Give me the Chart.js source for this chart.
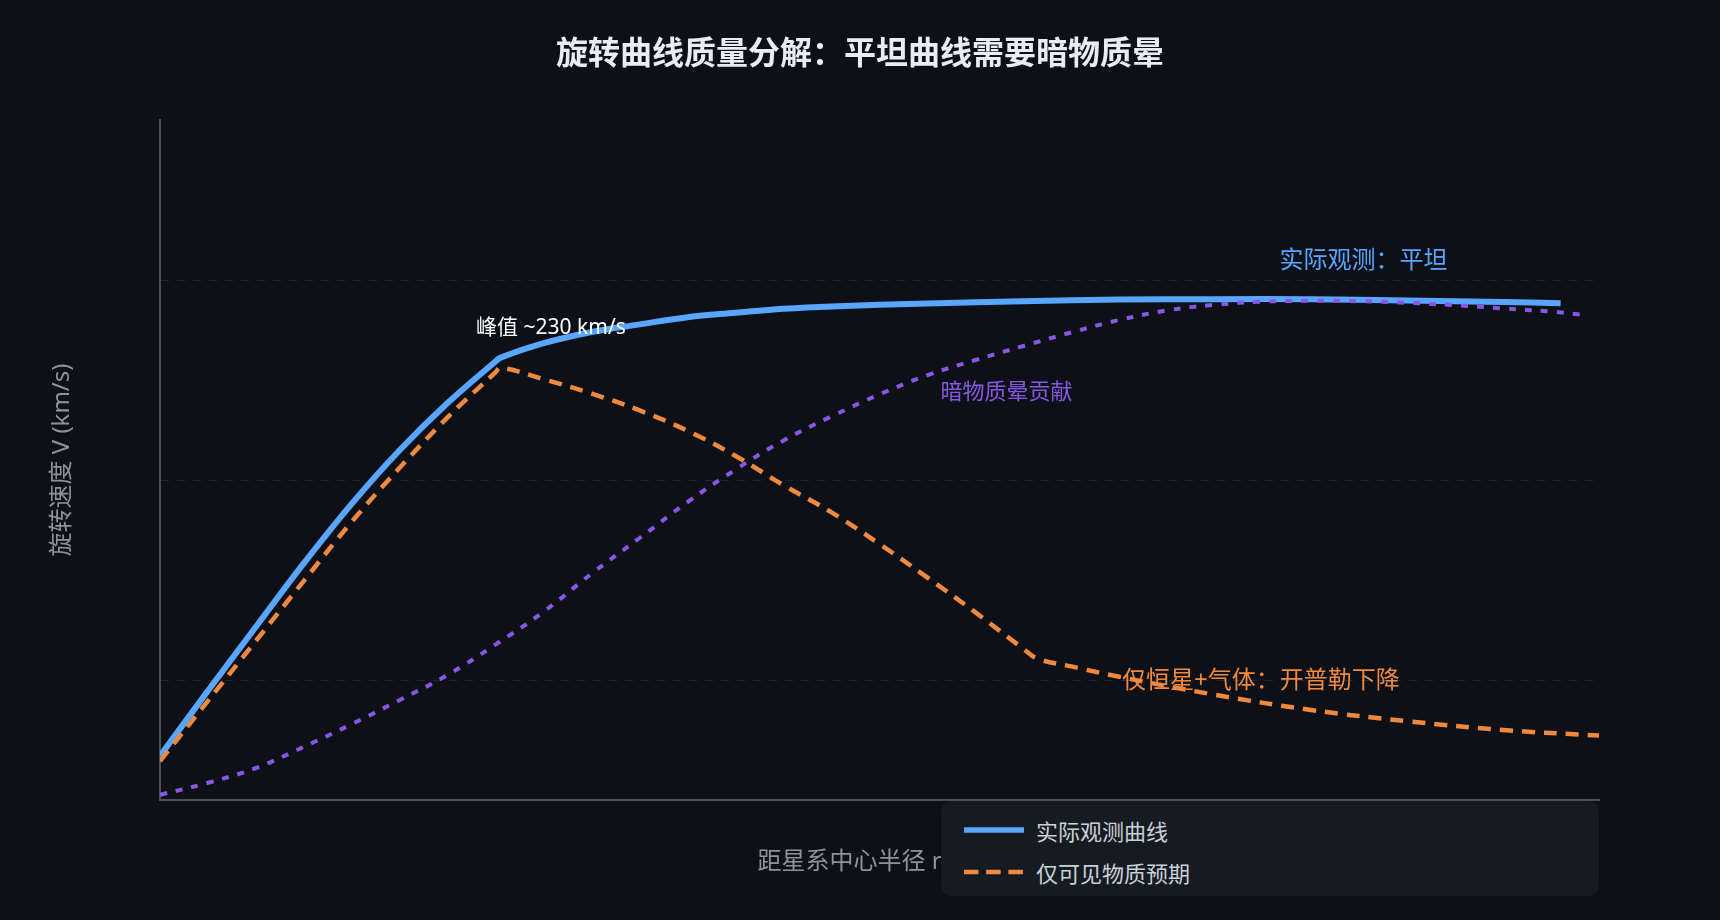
<!DOCTYPE html>
<html lang="zh-CN">
<head>
<meta charset="UTF-8">
<title>旋转曲线质量分解</title>
<script src="https://cdn.jsdelivr.net/npm/chart.js@4.4.1/dist/chart.umd.min.js"></script>
<style>
  html, body { margin: 0; padding: 0; background: #0d1117; }
  body {
    position: relative;
    width: 1720px;
    height: 920px;
    overflow: hidden;
    font-family: "Noto Sans", "Noto Sans CJK SC", sans-serif;
  }
  #rotationChart { position: absolute; left: 0; top: 0; }
  #chartTitle {
    position: absolute;
    left: 0;
    top: 32px;
    width: 1720px;
    text-align: center;
    font-size: 32px;
    line-height: 40px;
    font-weight: 700;
    color: #e6edf3;
  }
  #legend {
    position: absolute;
    left: 941px;
    top: 801px;
    width: 658px;
    height: 95px;
    background: #161b22;
    border-radius: 10px;
  }
  .legend-item {
    position: absolute;
    left: 23px;
    height: 30px;
    display: flex;
    align-items: center;
    font-size: 22px;
    color: #c9d1d9;
  }
  .legend-item svg { display: block; margin-right: 12px; }
</style>
</head>
<body>
<canvas id="rotationChart" width="1720" height="920"></canvas>
<div id="chartTitle">旋转曲线质量分解：平坦曲线需要暗物质晕</div>
<div id="legend">
  <div class="legend-item" style="top: 14px;">
    <svg width="60" height="8"><line x1="0" y1="4" x2="60" y2="4" stroke="#58a6ff" stroke-width="5.5"/></svg>
    <span>实际观测曲线</span>
  </div>
  <div class="legend-item" style="top: 56px;">
    <svg width="60" height="8"><line x1="0" y1="4" x2="59" y2="4" stroke="#f0883e" stroke-width="4.5" stroke-dasharray="14.5 7.7"/></svg>
    <span>仅可见物质预期</span>
  </div>
</div>

<script>
// Radius in kpc, speed in km/s
var radiusObserved = [0, 1, 2, 3, 4, 5, 6, 7, 7.1, 8, 9, 10, 11, 12, 13, 14, 16, 18, 20, 22, 24, 26, 28, 29.2];
var speedObserved = [131.0, 147.3, 163.3, 179.2, 194.1, 207.5, 219.3, 229.7, 230.6, 234.2, 237.0, 238.9, 240.7, 241.8, 242.8, 243.4, 244.1, 244.7, 245.1, 245.2, 245.2, 244.9, 244.5, 244.2];

var radiusVisible = [0, 1, 2, 3, 4, 5, 6, 7, 7.1, 8, 9, 10, 11, 12, 13, 14, 15, 16, 17, 18, 18.3, 19, 20, 22, 24, 26, 28, 30];
var speedVisible = [129.7, 144.8, 159.8, 174.8, 189.6, 203.1, 215.7, 227.0, 228.1, 225.2, 221.6, 217.4, 212.3, 206.0, 198.7, 191.9, 184.0, 175.6, 166.9, 157.8, 155.3, 153.4, 150.8, 146.3, 142.5, 139.7, 137.5, 136.1];

var radiusHalo = [0, 1, 2, 3, 4, 5, 6, 7, 8, 9, 10, 11, 12, 13, 14, 15, 16, 17, 18, 19, 20, 21, 22, 23, 24, 25, 26, 27, 28, 29, 29.6];
var speedHalo = [121.3, 124.3, 128.0, 133.3, 139.0, 145.0, 151.3, 158.9, 167.1, 176.6, 185.5, 194.5, 202.6, 209.9, 215.9, 221.4, 226.2, 230.0, 233.5, 236.9, 240.0, 242.4, 243.8, 244.6, 244.8, 244.7, 244.3, 243.7, 242.9, 242.1, 241.4];

var radiusRange = [0, 30];
var speedRange = [120, 290];
var speedStep = 50;

var fontFamily = '"Noto Sans", "Noto Sans CJK SC", sans-serif';
var mutedText = "#8b949e";
var axisColor = "#484f58";
var gridColor = "#21262d";

// Labels written on the plot, anchored in data units
var notes = [
  { text: "实际观测：平坦", r: 25.09, v: 254.6, size: 24, color: "#58a6ff" },
  { text: "暗物质晕贡献", r: 17.65, v: 221.8, size: 22, color: "#8957e5" },
  { text: "仅恒星+气体：开普勒下降", r: 22.95, v: 149.6, size: 24, color: "#f0883e" },
  { text: "峰值 ~230 km/s", r: 8.15, v: 237.9, size: 21, color: "#ffffff" }
];

function toPoints(xs, ys) {
  return xs.map(function (x, i) {
    return { x: x, y: ys[i] };
  });
}

var noteLabels = {
  id: "noteLabels",
  afterDatasetsDraw: function (chart) {
    var ctx = chart.ctx;
    var xScale = chart.scales.x;
    var yScale = chart.scales.y;
    ctx.save();
    ctx.textAlign = "center";
    ctx.textBaseline = "middle";
    notes.forEach(function (n) {
      ctx.font = n.size + "px " + fontFamily;
      ctx.fillStyle = n.color;
      ctx.fillText(n.text, xScale.getPixelForValue(n.r), yScale.getPixelForValue(n.v));
    });
    ctx.restore();
  }
};

Chart.defaults.font.family = fontFamily;

var ctx = document.getElementById("rotationChart").getContext("2d");
var rotationChart = new Chart(ctx, {
  type: "line",
  data: {
    datasets: [
      {
        label: "实际观测曲线",
        data: toPoints(radiusObserved, speedObserved),
        borderColor: "#58a6ff",
        borderWidth: 6,
        pointRadius: 0,
        tension: 0.4,
        borderJoinStyle: "round",
        order: 3
      },
      {
        label: "仅可见物质预期",
        data: toPoints(radiusVisible, speedVisible),
        borderColor: "#f0883e",
        borderWidth: 4.5,
        borderDash: [13, 9],
        pointRadius: 0,
        tension: 0.4,
        order: 2
      },
      {
        label: "暗物质晕贡献",
        data: toPoints(radiusHalo, speedHalo),
        borderColor: "#8957e5",
        borderWidth: 4,
        borderDash: [7, 9],
        pointRadius: 0,
        tension: 0.4,
        order: 1
      }
    ]
  },
  options: {
    responsive: false,
    animation: false,
    devicePixelRatio: 1,
    layout: {
      padding: { left: 40, right: 121, top: 120, bottom: 10 }
    },
    plugins: {
      legend: { display: false },
      tooltip: { enabled: false },
      title: { display: false }
    },
    scales: {
      x: {
        type: "linear",
        min: radiusRange[0],
        max: radiusRange[1],
        ticks: { display: false },
        grid: { display: false, drawTicks: false },
        border: { color: axisColor, width: 2 },
        title: {
          display: true,
          text: "距星系中心半径 r (kpc)",
          color: mutedText,
          font: { size: 24 },
          padding: { top: 47.6, bottom: 33.6 }
        }
      },
      y: {
        min: speedRange[0],
        max: speedRange[1],
        ticks: { display: false, stepSize: speedStep },
        grid: {
          drawTicks: false,
          lineWidth: 1,
          color: function (c) {
            return c.tick && c.tick.value % speedStep === 0 ? gridColor : "transparent";
          }
        },
        border: { color: axisColor, width: 2, dash: [8, 8] },
        title: {
          display: true,
          text: "旋转速度 V (km/s)",
          color: mutedText,
          font: { size: 24 },
          padding: { top: 8, bottom: 83.2 }
        }
      }
    }
  },
  plugins: [noteLabels]
});
</script>
</body>
</html>
